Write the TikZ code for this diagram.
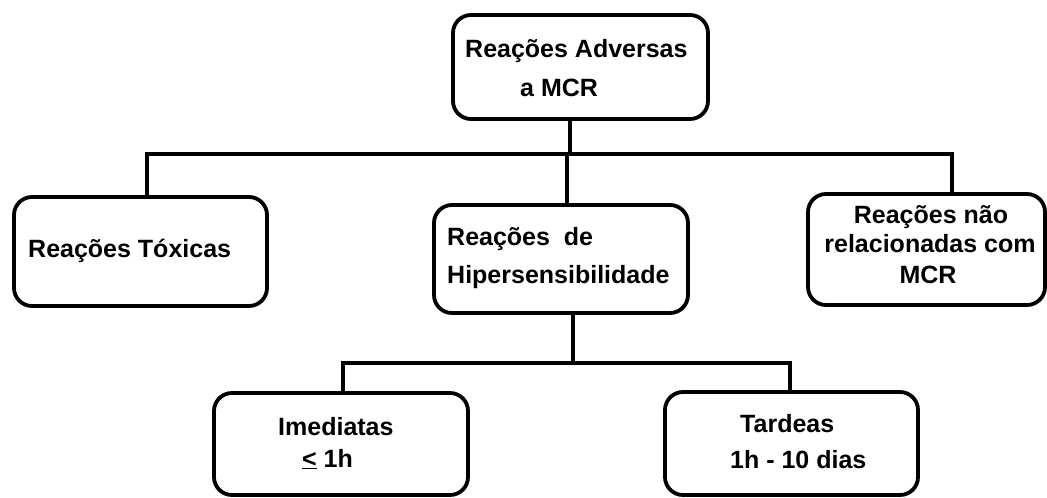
\documentclass[tikz,border=0pt]{standalone}
\usepackage{fontspec}
\setmainfont{Liberation Sans}
\begin{document}
\begin{tikzpicture}[x=1pt,y=-1pt,
  box/.style={draw=black,line width=3.8pt,rounded corners=18pt,rectangle,inner sep=0pt},
  conn/.style={draw=black,line width=3.8pt},
  txt/.style={inner sep=0pt,anchor=base west,font=\fontsize{25}{30}\selectfont\bfseries},
  ctxt/.style={inner sep=0pt,anchor=base,font=\fontsize{25}{30}\selectfont\bfseries}]
\useasboundingbox (0,0) rectangle (1047,498);
% boxes
\node[box,minimum width=255pt,minimum height=104pt] (top) at (580.5,67) {};
\node[box,minimum width=253pt,minimum height=109pt] (lbox) at (140.5,251.5) {};
\node[box,minimum width=254pt,minimum height=108pt] (mbox) at (561,259) {};
\node[box,minimum width=237pt,minimum height=111pt] (rbox) at (926.5,249.5) {};
\node[box,minimum width=254pt,minimum height=102pt] (bl) at (341,444) {};
\node[box,minimum width=253pt,minimum height=103pt] (br) at (791.5,443.5) {};
% connectors
\coordinate (bus) at (570,154);
\coordinate (bus2) at (573,363);
\draw[conn] (bus |- top.south) -- (bus);
\draw[conn] ([xshift=6.5pt]lbox.north) |- (bus) -| ([xshift=25.5pt]rbox.north);
\draw[conn] ([xshift=6pt]mbox.north) -- ([xshift=6pt]mbox.north |- bus);
\draw[conn] (bus2 |- mbox.south) -- (bus2);
\draw[conn] ([xshift=2pt]bl.north) |- (bus2) -| ([xshift=-1.5pt]br.north);
% texts
\node[txt] (t1) at (465,57) {Reações Adversas};
\node[txt] (t2) at (520,96) {a MCR};
\node[txt] (t3) at (28,257) {Reações Tóxicas};
\node[txt] (t4) at (447,245) {Reações\ \ de};
\node[txt] (t5) at (447,283) {Hipersensibilidade};
\node[ctxt] (t6) at (931,223) {Reações não};
\node[ctxt] (t7) at (930,252) {relacionadas com};
\node[ctxt] (t8) at (928,283) {MCR};
\node[txt] (t9) at (278,435) {Imediatas};
\node[txt] (t10) at (302,467) {\underline{<} 1h};
\node[txt] (t11) at (740,432) {Tardeas};
\node[txt] (t12) at (730,468) {1h - 10 dias};
\end{tikzpicture}
\end{document}
